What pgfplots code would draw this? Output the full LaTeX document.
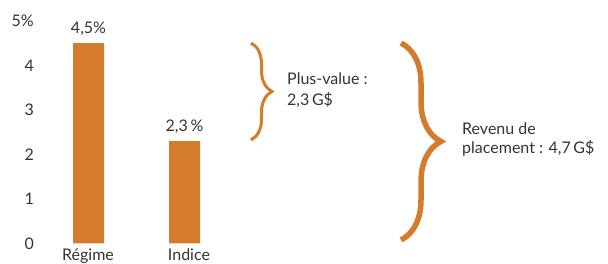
\documentclass[border=0pt]{standalone}
\usepackage{pgfplots}
\pgfplotsset{compat=1.18}
\usepackage{fontspec}
\setmainfont{Lato}
\usetikzlibrary{decorations.pathreplacing}
\definecolor{barorange}{HTML}{D47C2B}
\definecolor{txt}{HTML}{333333}
\begin{document}
\begin{tikzpicture}
\begin{axis}[
  at={(0,0)}, anchor=south west,
  scale only axis, width=608pt, height=264pt,
  xmin=0, xmax=608, ymin=-0.4607, ymax=5.4719,
  axis line style={draw=none},
  major tick length=0pt,
  clip=false,
  xtick={88,189}, xticklabels={Régime, Indice},
  ytick={0,1,2,3,4,5}, yticklabels={0,1,2,3,4,5\%},
  font=\fontsize{16}{19}\selectfont,
  tick label style={text=txt, font=\fontsize{16}{19}\selectfont},
  /pgf/number format/assume math mode=true,
  yticklabel style={anchor=east, inner sep=0pt, xshift=34pt},
  xticklabel style={anchor=base, inner sep=0pt, yshift=3.5pt},
  nodes near coords,
  point meta=explicit symbolic,
  every node near coord/.append style={text=txt, anchor=south, inner sep=0pt, yshift=7pt, font=\fontsize{16}{19}\selectfont},
]
\addplot[ybar, bar width=31pt, fill=barorange, draw=none] coordinates {
  (88.5,4.5) [{4,5\%}]
  (184.5,2.3) [{2,3\,\%}]
};
\draw[barorange, line width=3pt, decorate, decoration={brace, amplitude=21pt}]
  (axis cs:251,4.506) -- (axis cs:251,2.326);
\draw[barorange, line width=5.5pt, decorate, decoration={brace, amplitude=40pt}]
  (axis cs:401,4.506) -- (axis cs:401,0.079);
\node[anchor=west, align=left, text=txt, inner sep=0pt, font=\fontsize{16}{21}\selectfont]
  at (axis cs:287,3.452) {Plus-value :\\2,3\,G\$};
\node[anchor=west, align=left, text=txt, inner sep=0pt, font=\fontsize{16}{19.5}\selectfont]
  at (axis cs:462,2.337) {Revenu de\\placement : 4,7\,G\$};
\end{axis}
\pgfresetboundingbox
\useasboundingbox (0,0) rectangle (608pt,264pt);
\end{tikzpicture}
\end{document}
